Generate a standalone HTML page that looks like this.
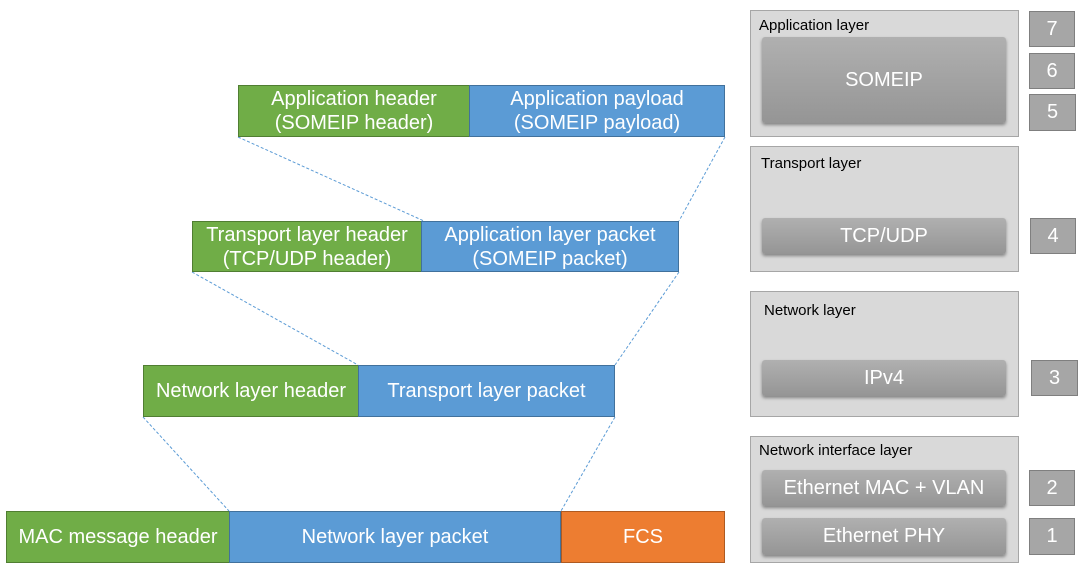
<!DOCTYPE html>
<html><head><meta charset="utf-8"><style>
body{margin:0;width:1086px;height:568px;background:#fff;position:relative;overflow:hidden;font-family:"Liberation Sans",sans-serif}
.b{position:absolute;box-sizing:border-box;color:#fff;display:flex;align-items:center;justify-content:center;text-align:center;font-size:20px;line-height:24px;white-space:nowrap}
.g{background:#70ad47;border:1px solid #507e32}
.u{background:#5b9bd5;border:1px solid #41719c}
.o{background:#ed7d31;border:1px solid #ae5a21}
.L{position:absolute;box-sizing:border-box;background:#d9d9d9;border:1px solid #a6a6a6}
.t{position:absolute;font-size:15px;color:#000}
.i{position:absolute;box-sizing:border-box;background:linear-gradient(#b0b0b0,#959595);border-radius:3px;box-shadow:0 2px 3px rgba(0,0,0,.4);color:#fff;display:flex;align-items:center;justify-content:center;font-size:20px;white-space:nowrap}
.n{position:absolute;box-sizing:border-box;background:#a6a6a6;border:1px solid #7f7f7f;color:#fff;display:flex;align-items:center;justify-content:center;font-size:20px}
</style></head><body>
<svg width="1086" height="568" style="position:absolute;left:0;top:0">
<g stroke="#5b9bd5" stroke-width="1" stroke-dasharray="3,2" fill="none">
<line x1="238" y1="137" x2="424" y2="221"/><line x1="725" y1="137" x2="679" y2="221"/>
<line x1="192" y1="272" x2="358" y2="365"/><line x1="679" y1="272" x2="615" y2="365"/>
<line x1="143" y1="417" x2="229" y2="511"/><line x1="615" y1="417" x2="561" y2="511"/>
</g></svg>
<div class="b g" style="left:238px;top:85px;width:232px;height:52px">Application header<br>(SOMEIP header)</div>
<div class="b u" style="left:469px;top:85px;width:256px;height:52px">Application payload<br>(SOMEIP payload)</div>
<div class="b g" style="left:192px;top:221px;width:230px;height:51px">Transport layer header<br>(TCP/UDP header)</div>
<div class="b u" style="left:421px;top:221px;width:258px;height:51px">Application layer packet<br>(SOMEIP packet)</div>
<div class="b g" style="left:143px;top:365px;width:216px;height:52px">Network layer header</div>
<div class="b u" style="left:358px;top:365px;width:257px;height:52px">Transport layer packet</div>
<div class="b g" style="left:6px;top:511px;width:224px;height:52px">MAC message header</div>
<div class="b u" style="left:229px;top:511px;width:332px;height:52px">Network layer packet</div>
<div class="b o" style="left:561px;top:511px;width:164px;height:52px">FCS</div>

<div class="L" style="left:750px;top:10px;width:269px;height:127px"></div>
<div class="t" style="left:759px;top:17px">Application layer</div>
<div class="i" style="left:762px;top:37px;width:244px;height:86px">SOMEIP</div>
<div class="L" style="left:750px;top:146px;width:269px;height:126px"></div>
<div class="t" style="left:761px;top:155px">Transport layer</div>
<div class="i" style="left:762px;top:218px;width:244px;height:36px">TCP/UDP</div>
<div class="L" style="left:750px;top:291px;width:269px;height:126px"></div>
<div class="t" style="left:764px;top:302px">Network layer</div>
<div class="i" style="left:762px;top:360px;width:244px;height:36px">IPv4</div>
<div class="L" style="left:750px;top:436px;width:269px;height:127px"></div>
<div class="t" style="left:759px;top:442px">Network interface layer</div>
<div class="i" style="left:762px;top:470px;width:244px;height:36px">Ethernet MAC + VLAN</div>
<div class="i" style="left:762px;top:518px;width:244px;height:37px">Ethernet PHY</div>

<div class="n" style="left:1029px;top:11px;width:46px;height:36px">7</div>
<div class="n" style="left:1029px;top:53px;width:46px;height:36px">6</div>
<div class="n" style="left:1029px;top:94px;width:47px;height:37px">5</div>
<div class="n" style="left:1030px;top:218px;width:46px;height:36px">4</div>
<div class="n" style="left:1031px;top:360px;width:47px;height:36px">3</div>
<div class="n" style="left:1029px;top:470px;width:46px;height:36px">2</div>
<div class="n" style="left:1029px;top:518px;width:46px;height:37px">1</div>
</body></html>
